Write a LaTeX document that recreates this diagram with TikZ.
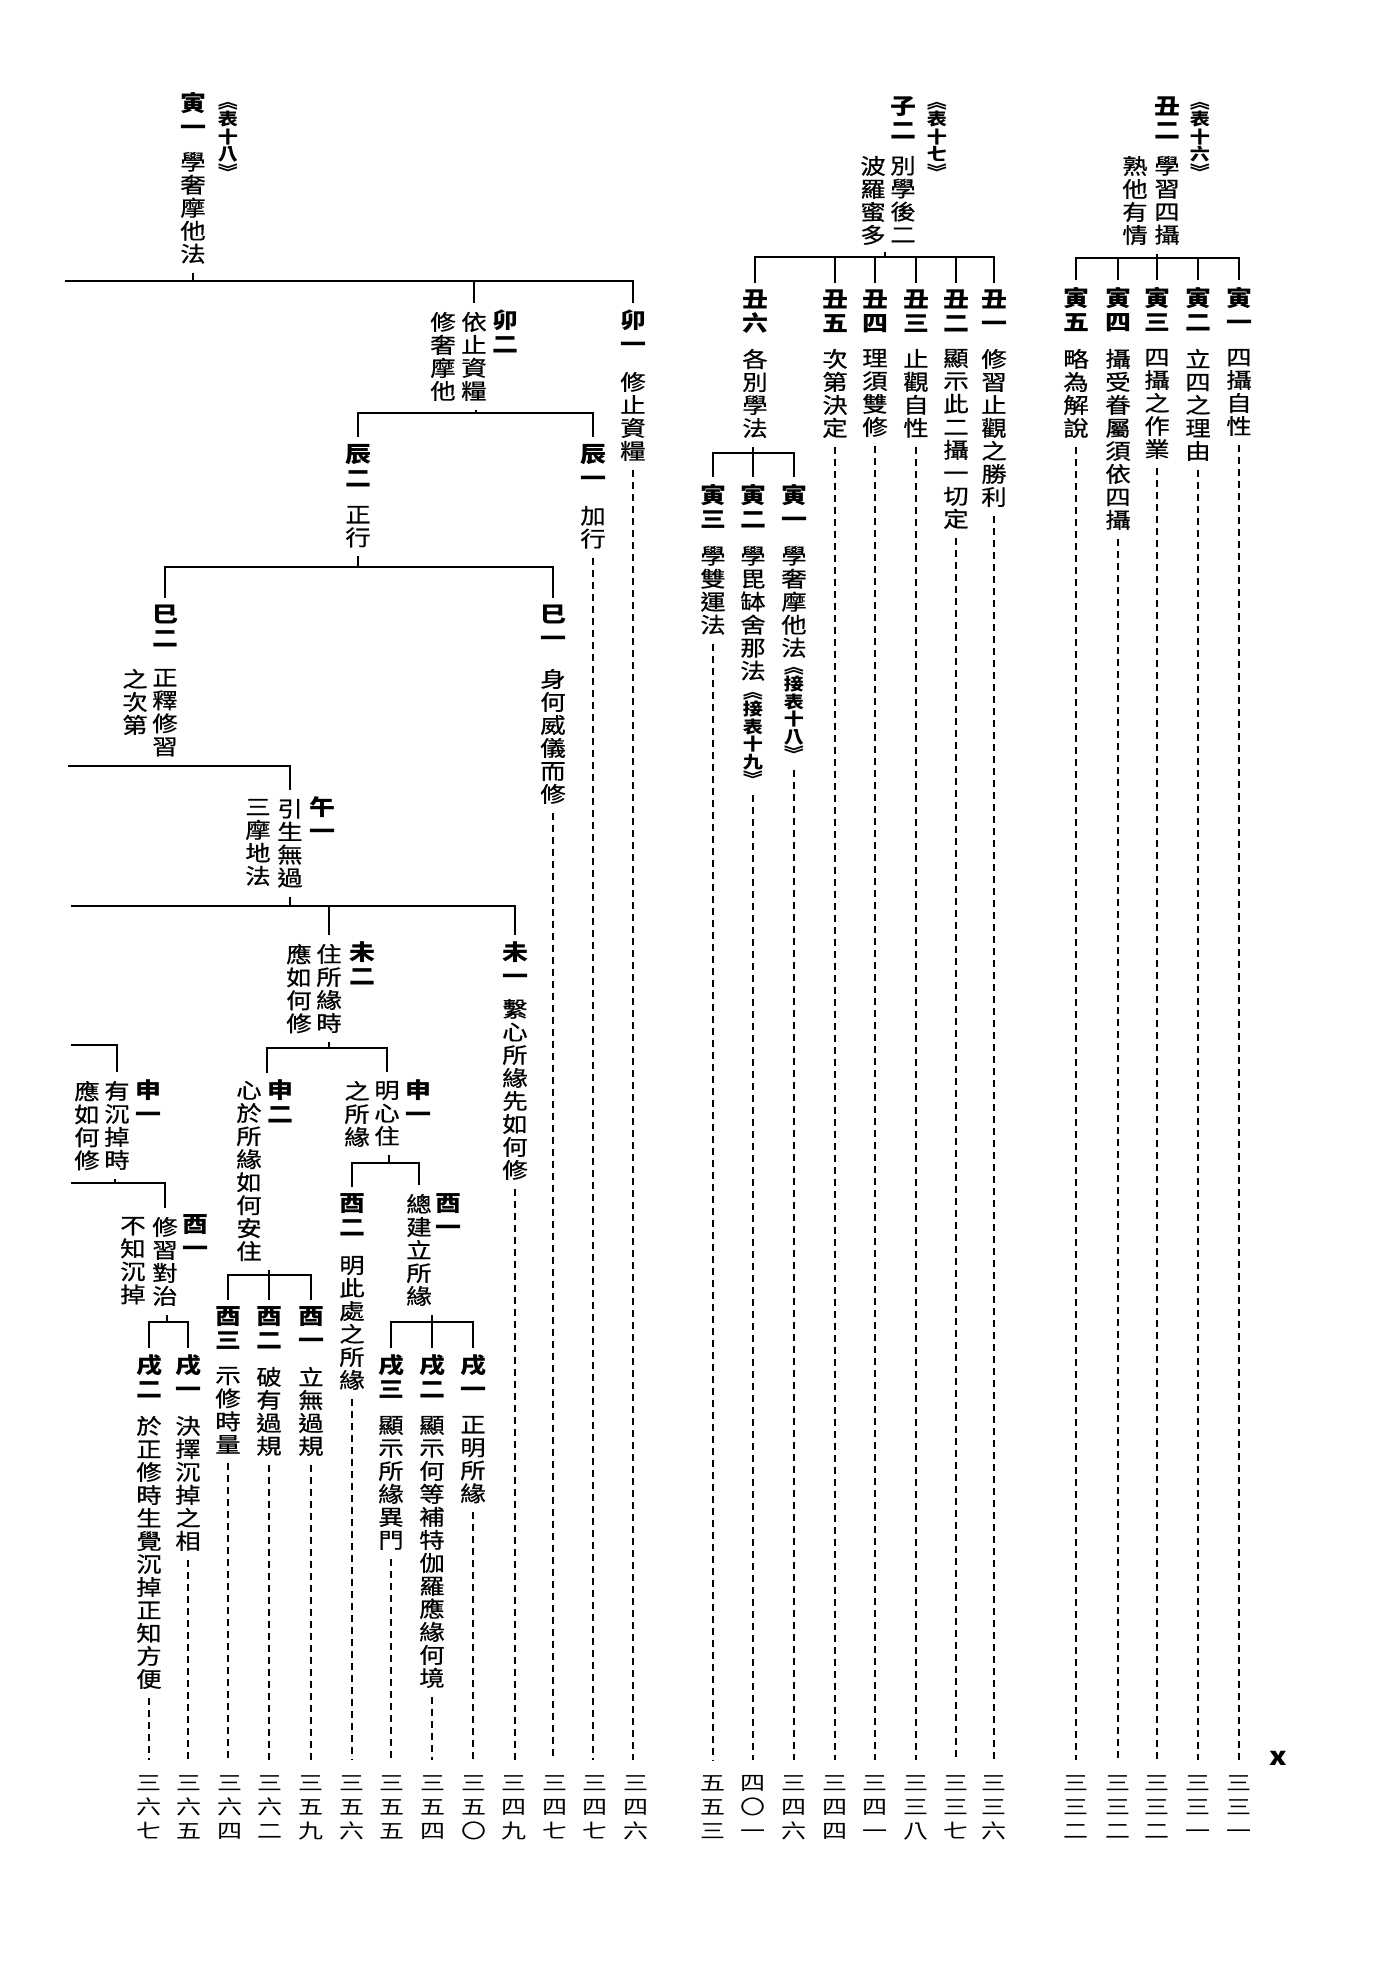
\documentclass[tikz,border=0pt]{standalone}
\usepackage{fontspec}
\setmainfont{Noto Sans CJK TC}[FakeStretch=1.18]
\newfontfamily\txtfont{Noto Sans CJK TC}[FakeStretch=1.18, FakeBold=0.7]
\newfontfamily\numfont{Noto Sans CJK TC}[FakeStretch=1.25]
\usepackage{tikz}
\makeatletter
\def\vt@loop#1{\ifx#1\relax\else\hbox to 1.2em{\hss#1\hss}\expandafter\vt@loop\fi}
\newcommand\vtxt[1]{\vbox{\edef\vt@arg{#1}\expandafter\vt@loop\vt@arg\relax}}
\makeatother
\tikzset{
  tree/.style={line width=2.6pt},
  leader/.style={line width=1.8pt, dash pattern=on 7pt off 5pt, shorten >=15pt},
  lbl/.style={inner sep=0pt, outer xsep=0pt, outer ysep=7pt, anchor=north, font=\fontsize{22}{24}\selectfont\bfseries},
  txt/.style={inner sep=0pt, outer xsep=0pt, outer ysep=9pt, anchor=north, font=\txtfont\fontsize{21.5}{23}\selectfont},
  hdr/.style={inner sep=0pt, outer xsep=0pt, outer ysep=9pt, anchor=north, font=\fontsize{17}{17.5}\selectfont\bfseries},
  pgno/.style={inner sep=0pt, anchor=north, font=\numfont\fontsize{20}{24}\selectfont},
}

\begin{document}
\begin{tikzpicture}[x=1pt,y=-1pt]
		\useasboundingbox (0,0) rectangle (1398,1984);
		%table 16
		\begin{scope}
			\node[hdr] (h16) at (1200,93) {\vtxt{︽表十六︾}};
			\node[lbl] (t16) at (1167,90) {\vtxt{丑二}};
			\node[txt] (t16a) at (1167,147) {\vtxt{學習四攝}};
			\node[txt] (t16b) at (1135,147) {\vtxt{熟他有情}};
			\node[lbl] (r1) at (1239,280) {\vtxt{寅一}};
			\node[txt] (r1t) at (1239,340) {\vtxt{四攝自性}};
			\node[lbl] (r2) at (1198,280) {\vtxt{寅二}};
			\node[txt] (r2t) at (1198,340) {\vtxt{立四之理由}};
			\node[lbl] (r3) at (1157,280) {\vtxt{寅三}};
			\node[txt] (r3t) at (1157,340) {\vtxt{四攝之作業}};
			\node[lbl] (r4) at (1118,280) {\vtxt{寅四}};
			\node[txt] (r4t) at (1118,340) {\vtxt{攝受眷屬須依四攝}};
			\node[lbl] (r5) at (1076,280) {\vtxt{寅五}};
			\node[txt] (r5t) at (1076,340) {\vtxt{略為解說}};
			%tree
			\coordinate (j16) at (1157,258);
			\draw[tree] (t16a.south -| j16) -- (j16);
			\draw[tree] (r5.north) |- (j16) -| (r1.north);
			\draw[tree] (j16 -| r2.north) -- (r2.north);
			\draw[tree] (j16 -| r3.north) -- (r3.north);
			\draw[tree] (j16 -| r4.north) -- (r4.north);
			%pages
			\node[pgno] (r1n) at (1239,1775) {\vtxt{三三一}};
			\node[pgno] (r2n) at (1198,1775) {\vtxt{三三一}};
			\node[pgno] (r3n) at (1157,1775) {\vtxt{三三二}};
			\node[pgno] (r4n) at (1118,1775) {\vtxt{三三二}};
			\node[pgno] (r5n) at (1076,1775) {\vtxt{三三二}};
			\draw[leader] (r1t.south) -- (r1n.north);
			\draw[leader] (r2t.south) -- (r2n.north);
			\draw[leader] (r3t.south) -- (r3n.north);
			\draw[leader] (r4t.south) -- (r4n.north);
			\draw[leader] (r5t.south) -- (r5n.north);
			\node[inner sep=0pt, font=\fontsize{25}{25}\selectfont\bfseries] (xm) at (1278,1758) {x};
		\end{scope}
		%table 17
		\begin{scope}
			\node[hdr] (h17) at (937,93) {\vtxt{︽表十七︾}};
			\node[lbl] (t17) at (903,90) {\vtxt{子二}};
			\node[txt] (t17a) at (903,147) {\vtxt{別學後二}};
			\node[txt] (t17b) at (873,147) {\vtxt{波羅蜜多}};
			\node[lbl] (q1) at (994,283) {\vtxt{丑一}};
			\node[txt] (q1t) at (994,340) {\vtxt{修習止觀之勝利}};
			\node[lbl] (q2) at (956,283) {\vtxt{丑二}};
			\node[txt] (q2t) at (956,340) {\vtxt{顯示此二攝一切定}};
			\node[lbl] (q3) at (916,283) {\vtxt{丑三}};
			\node[txt] (q3t) at (916,340) {\vtxt{止觀自性}};
			\node[lbl] (q4) at (875,283) {\vtxt{丑四}};
			\node[txt] (q4t) at (875,340) {\vtxt{理須雙修}};
			\node[lbl] (q5) at (835,283) {\vtxt{丑五}};
			\node[txt] (q5t) at (835,340) {\vtxt{次第決定}};
			\node[lbl] (q6) at (755,283) {\vtxt{丑六}};
			\node[txt] (q6t) at (755,340) {\vtxt{各別學法}};
			%sub branch
			\node[lbl] (p1) at (794,477) {\vtxt{寅一}};
			\node[txt] (p1t) at (794,537) {\vtxt{學奢摩他法}};
			\node[hdr] (p1x) at (794,658) {\vtxt{︽接表十八︾}};
			\node[lbl] (p2) at (753,477) {\vtxt{寅二}};
			\node[txt] (p2t) at (753,537) {\vtxt{學毘缽舍那法}};
			\node[hdr] (p2x) at (753,683) {\vtxt{︽接表十九︾}};
			\node[lbl] (p3) at (713,477) {\vtxt{寅三}};
			\node[txt] (p3t) at (713,537) {\vtxt{學雙運法}};
			%tree
			\coordinate (j17) at (885,257);
			\draw[tree] (t17a.south -| j17) -- (j17);
			\draw[tree] (q6.north) |- (j17) -| (q1.north);
			\draw[tree] (j17 -| q2.north) -- (q2.north);
			\draw[tree] (j17 -| q3.north) -- (q3.north);
			\draw[tree] (j17 -| q4.north) -- (q4.north);
			\draw[tree] (j17 -| q5.north) -- (q5.north);
			\coordinate (j17b) at (753,453);
			\draw[tree] (q6t.south -| j17b) -- (j17b);
			\draw[tree] (p3.north) |- (j17b) -| (p1.north);
			\draw[tree] (j17b) -- (p2.north);
			%pages
			\node[pgno] (q1n) at (994,1775) {\vtxt{三三六}};
			\node[pgno] (q2n) at (956,1775) {\vtxt{三三七}};
			\node[pgno] (q3n) at (916,1775) {\vtxt{三三八}};
			\node[pgno] (q4n) at (875,1775) {\vtxt{三四一}};
			\node[pgno] (q5n) at (835,1775) {\vtxt{三四四}};
			\node[pgno] (p1n) at (794,1775) {\vtxt{三四六}};
			\node[pgno] (p2n) at (753,1775) {\vtxt{四〇一}};
			\node[pgno] (p3n) at (713,1775) {\vtxt{五五三}};
			\draw[leader] (q1t.south) -- (q1n.north);
			\draw[leader] (q2t.south) -- (q2n.north);
			\draw[leader] (q3t.south) -- (q3n.north);
			\draw[leader] (q4t.south) -- (q4n.north);
			\draw[leader] (q5t.south) -- (q5n.north);
			\draw[leader] (p1x.south) -- (p1n.north);
			\draw[leader] (p2x.south) -- (p2n.north);
			\draw[leader] (p3t.south) -- (p3n.north);
		\end{scope}
		%table 18
		\begin{scope}
			\node[hdr] (h18) at (228,93) {\vtxt{︽表十八︾}};
			\node[lbl] (t18) at (193,85) {\vtxt{寅一}};
			\node[txt] (t18a) at (193,143) {\vtxt{學奢摩他法}};
			%mao
			\node[lbl] (a1) at (633,303) {\vtxt{卯一}};
			\node[txt] (a1t) at (633,363) {\vtxt{修止資糧}};
			\node[lbl] (a2) at (505,303) {\vtxt{卯二}};
			\node[txt] (a2t) at (474,303) {\vtxt{依止資糧}};
			\node[txt] (a2u) at (443,303) {\vtxt{修奢摩他}};
			\coordinate (j18) at (193,281);
			\coordinate (e18) at (65,281);
			\draw[tree] (t18a.south -| j18) -- (j18);
			\draw[tree] (e18) -| (a1.north);
			\draw[tree] (j18 -| a2t.north) -- (a2t.north);
			%chen
			\node[lbl] (b1) at (593,437) {\vtxt{辰一}};
			\node[txt] (b1t) at (593,497) {\vtxt{加行}};
			\node[lbl] (b2) at (358,437) {\vtxt{辰二}};
			\node[txt] (b2t) at (358,497) {\vtxt{正行}};
			\coordinate (j18b) at (476,413);
			\draw[tree] (a2t.south -| j18b) -- (j18b);
			\draw[tree] (b2.north) |- (j18b) -| (b1.north);
			%si
			\node[lbl] (c1) at (553,598) {\vtxt{巳一}};
			\node[txt] (c1t) at (553,660) {\vtxt{身何威儀而修}};
			\node[lbl] (c2) at (165,598) {\vtxt{巳二}};
			\node[txt] (c2t) at (165,660) {\vtxt{正釋修習}};
			\node[txt] (c2u) at (135,660) {\vtxt{之次第}};
			\coordinate (j18c) at (358,567);
			\draw[tree] (b2t.south) -- (j18c);
			\draw[tree] (c2.north) |- (j18c) -| (c1.north);
			%wu
			\node[lbl] (d1) at (322,790) {\vtxt{午一}};
			\node[txt] (d1t) at (290,790) {\vtxt{引生無過}};
			\node[txt] (d1u) at (258,790) {\vtxt{三摩地法}};
			\coordinate (j18d) at (165,766);
			\coordinate (e18d) at (68,766);
			\draw[tree] (c2t.south) -- (j18d);
			\draw[tree] (e18d) -| (d1t.north);
			%wei
			\node[lbl] (e1) at (515,935) {\vtxt{未一}};
			\node[txt] (e1t) at (515,990) {\vtxt{繫心所緣先如何修}};
			\node[lbl] (e2) at (362,935) {\vtxt{未二}};
			\node[txt] (e2t) at (329,935) {\vtxt{住所緣時}};
			\node[txt] (e2u) at (299,935) {\vtxt{應如何修}};
			\coordinate (j18e) at (290,906);
			\coordinate (e18e) at (71,906);
			\draw[tree] (d1t.south) -- (j18e);
			\draw[tree] (e18e) -| (e1.north);
			\draw[tree] (j18e -| e2t.north) -- (e2t.north);
			%shen
			\node[lbl] (f1) at (418,1073) {\vtxt{申一}};
			\node[txt] (f1t) at (387,1072) {\vtxt{明心住}};
			\node[txt] (f1u) at (357,1072) {\vtxt{之所緣}};
			\node[lbl] (f2) at (280,1073) {\vtxt{申二}};
			\node[txt] (f2t) at (249,1072) {\vtxt{心於所緣如何安住}};
			\coordinate (j18f) at (329,1048);
			\draw[tree] (e2t.south) -- (j18f);
			\draw[tree] ([xshift=-13pt]f2.north) |- (j18f) -| (f1t.north);
			%you under shen two
			\node[lbl] (g1) at (311,1300) {\vtxt{酉一}};
			\node[txt] (g1t) at (311,1358) {\vtxt{立無過規}};
			\node[lbl] (g2) at (269,1300) {\vtxt{酉二}};
			\node[txt] (g2t) at (269,1358) {\vtxt{破有過規}};
			\node[lbl] (g3) at (228,1300) {\vtxt{酉三}};
			\node[txt] (g3t) at (228,1358) {\vtxt{示修時量}};
			\coordinate (j18g) at (269,1275);
			\draw[tree] (f2t.south -| j18g) -- (j18g);
			\draw[tree] (g3.north) |- (j18g) -| (g1.north);
			\draw[tree] (j18g) -- (g2.north);
			%you under shen one
			\node[lbl] (h1) at (448,1187) {\vtxt{酉一}};
			\node[txt] (h1t) at (419,1185) {\vtxt{總建立所緣}};
			\node[lbl] (h2) at (352,1187) {\vtxt{酉二}};
			\node[txt] (h2t) at (352,1247) {\vtxt{明此處之所緣}};
			\coordinate (j18h) at (389,1163);
			\draw[tree] (f1t.south -| j18h) -- (j18h);
			\draw[tree] (h2.north) |- (j18h) -| (h1t.north);
			%xu
			\node[lbl] (i1) at (473,1348) {\vtxt{戌一}};
			\node[txt] (i1t) at (473,1407) {\vtxt{正明所緣}};
			\node[lbl] (i2) at (432,1348) {\vtxt{戌二}};
			\node[txt] (i2t) at (432,1407) {\vtxt{顯示何等補特伽羅應緣何境}};
			\node[lbl] (i3) at (391,1348) {\vtxt{戌三}};
			\node[txt] (i3t) at (391,1407) {\vtxt{顯示所緣異門}};
			\coordinate (j18i) at (432,1322);
			\draw[tree] (h1t.south -| j18i) -- (j18i);
			\draw[tree] (i3.north) |- (j18i) -| (i1.north);
			\draw[tree] (j18i) -- (i2.north);
			%left edge branch
			\node[lbl] (k1) at (148,1073) {\vtxt{申一}};
			\node[txt] (k1t) at (117,1072) {\vtxt{有沉掉時}};
			\node[txt] (k1u) at (87,1072) {\vtxt{應如何修}};
			\coordinate (e18k) at (71,1045);
			\draw[tree] (e18k) -| (k1t.north);
			\node[lbl] (l1) at (195,1208) {\vtxt{酉一}};
			\node[txt] (l1t) at (165,1208) {\vtxt{修習對治}};
			\node[txt] (l1u) at (133,1208) {\vtxt{不知沉掉}};
			\coordinate (j18l) at (115,1183);
			\coordinate (e18l) at (71,1183);
			\draw[tree] (k1t.south -| j18l) -- (j18l);
			\draw[tree] (e18l) -| (l1t.north);
			\node[lbl] (o1) at (188,1348) {\vtxt{戌一}};
			\node[txt] (o1t) at (188,1407) {\vtxt{決擇沉掉之相}};
			\node[lbl] (o2) at (149,1348) {\vtxt{戌二}};
			\node[txt] (o2t) at (149,1407) {\vtxt{於正修時生覺沉掉正知方便}};
			\coordinate (j18m) at (167,1322);
			\draw[tree] (l1t.south -| j18m) -- (j18m);
			\draw[tree] (o2.north) |- (j18m) -| (o1.north);
			%pages
			\node[pgno] (o2n) at (149,1775) {\vtxt{三六七}};
			\node[pgno] (o1n) at (189,1775) {\vtxt{三六五}};
			\node[pgno] (g3n) at (230,1775) {\vtxt{三六四}};
			\node[pgno] (g2n) at (270,1775) {\vtxt{三六二}};
			\node[pgno] (g1n) at (311,1775) {\vtxt{三五九}};
			\node[pgno] (h2n) at (352,1775) {\vtxt{三五六}};
			\node[pgno] (i3n) at (392,1775) {\vtxt{三五五}};
			\node[pgno] (i2n) at (433,1775) {\vtxt{三五四}};
			\node[pgno] (i1n) at (474,1775) {\vtxt{三五〇}};
			\node[pgno] (e1n) at (514,1775) {\vtxt{三四九}};
			\node[pgno] (c1n) at (555,1775) {\vtxt{三四七}};
			\node[pgno] (b1n) at (595,1775) {\vtxt{三四七}};
			\node[pgno] (a1n) at (636,1775) {\vtxt{三四六}};
			\draw[leader] (o2t.south) -- (o2t.south |- o2n.north);
			\draw[leader] (o1t.south) -- (o1t.south |- o1n.north);
			\draw[leader] (g3t.south) -- (g3t.south |- g3n.north);
			\draw[leader] (g2t.south) -- (g2t.south |- g2n.north);
			\draw[leader] (g1t.south) -- (g1t.south |- g1n.north);
			\draw[leader] (h2t.south) -- (h2t.south |- h2n.north);
			\draw[leader] (i3t.south) -- (i3t.south |- i3n.north);
			\draw[leader] (i2t.south) -- (i2t.south |- i2n.north);
			\draw[leader] (i1t.south) -- (i1t.south |- i1n.north);
			\draw[leader] (e1t.south) -- (e1t.south |- e1n.north);
			\draw[leader] (c1t.south) -- (c1t.south |- c1n.north);
			\draw[leader] (b1t.south) -- (b1t.south |- b1n.north);
			\draw[leader] (a1t.south) -- (a1t.south |- a1n.north);
		\end{scope}
		%
	\end{tikzpicture}
\end{document}
